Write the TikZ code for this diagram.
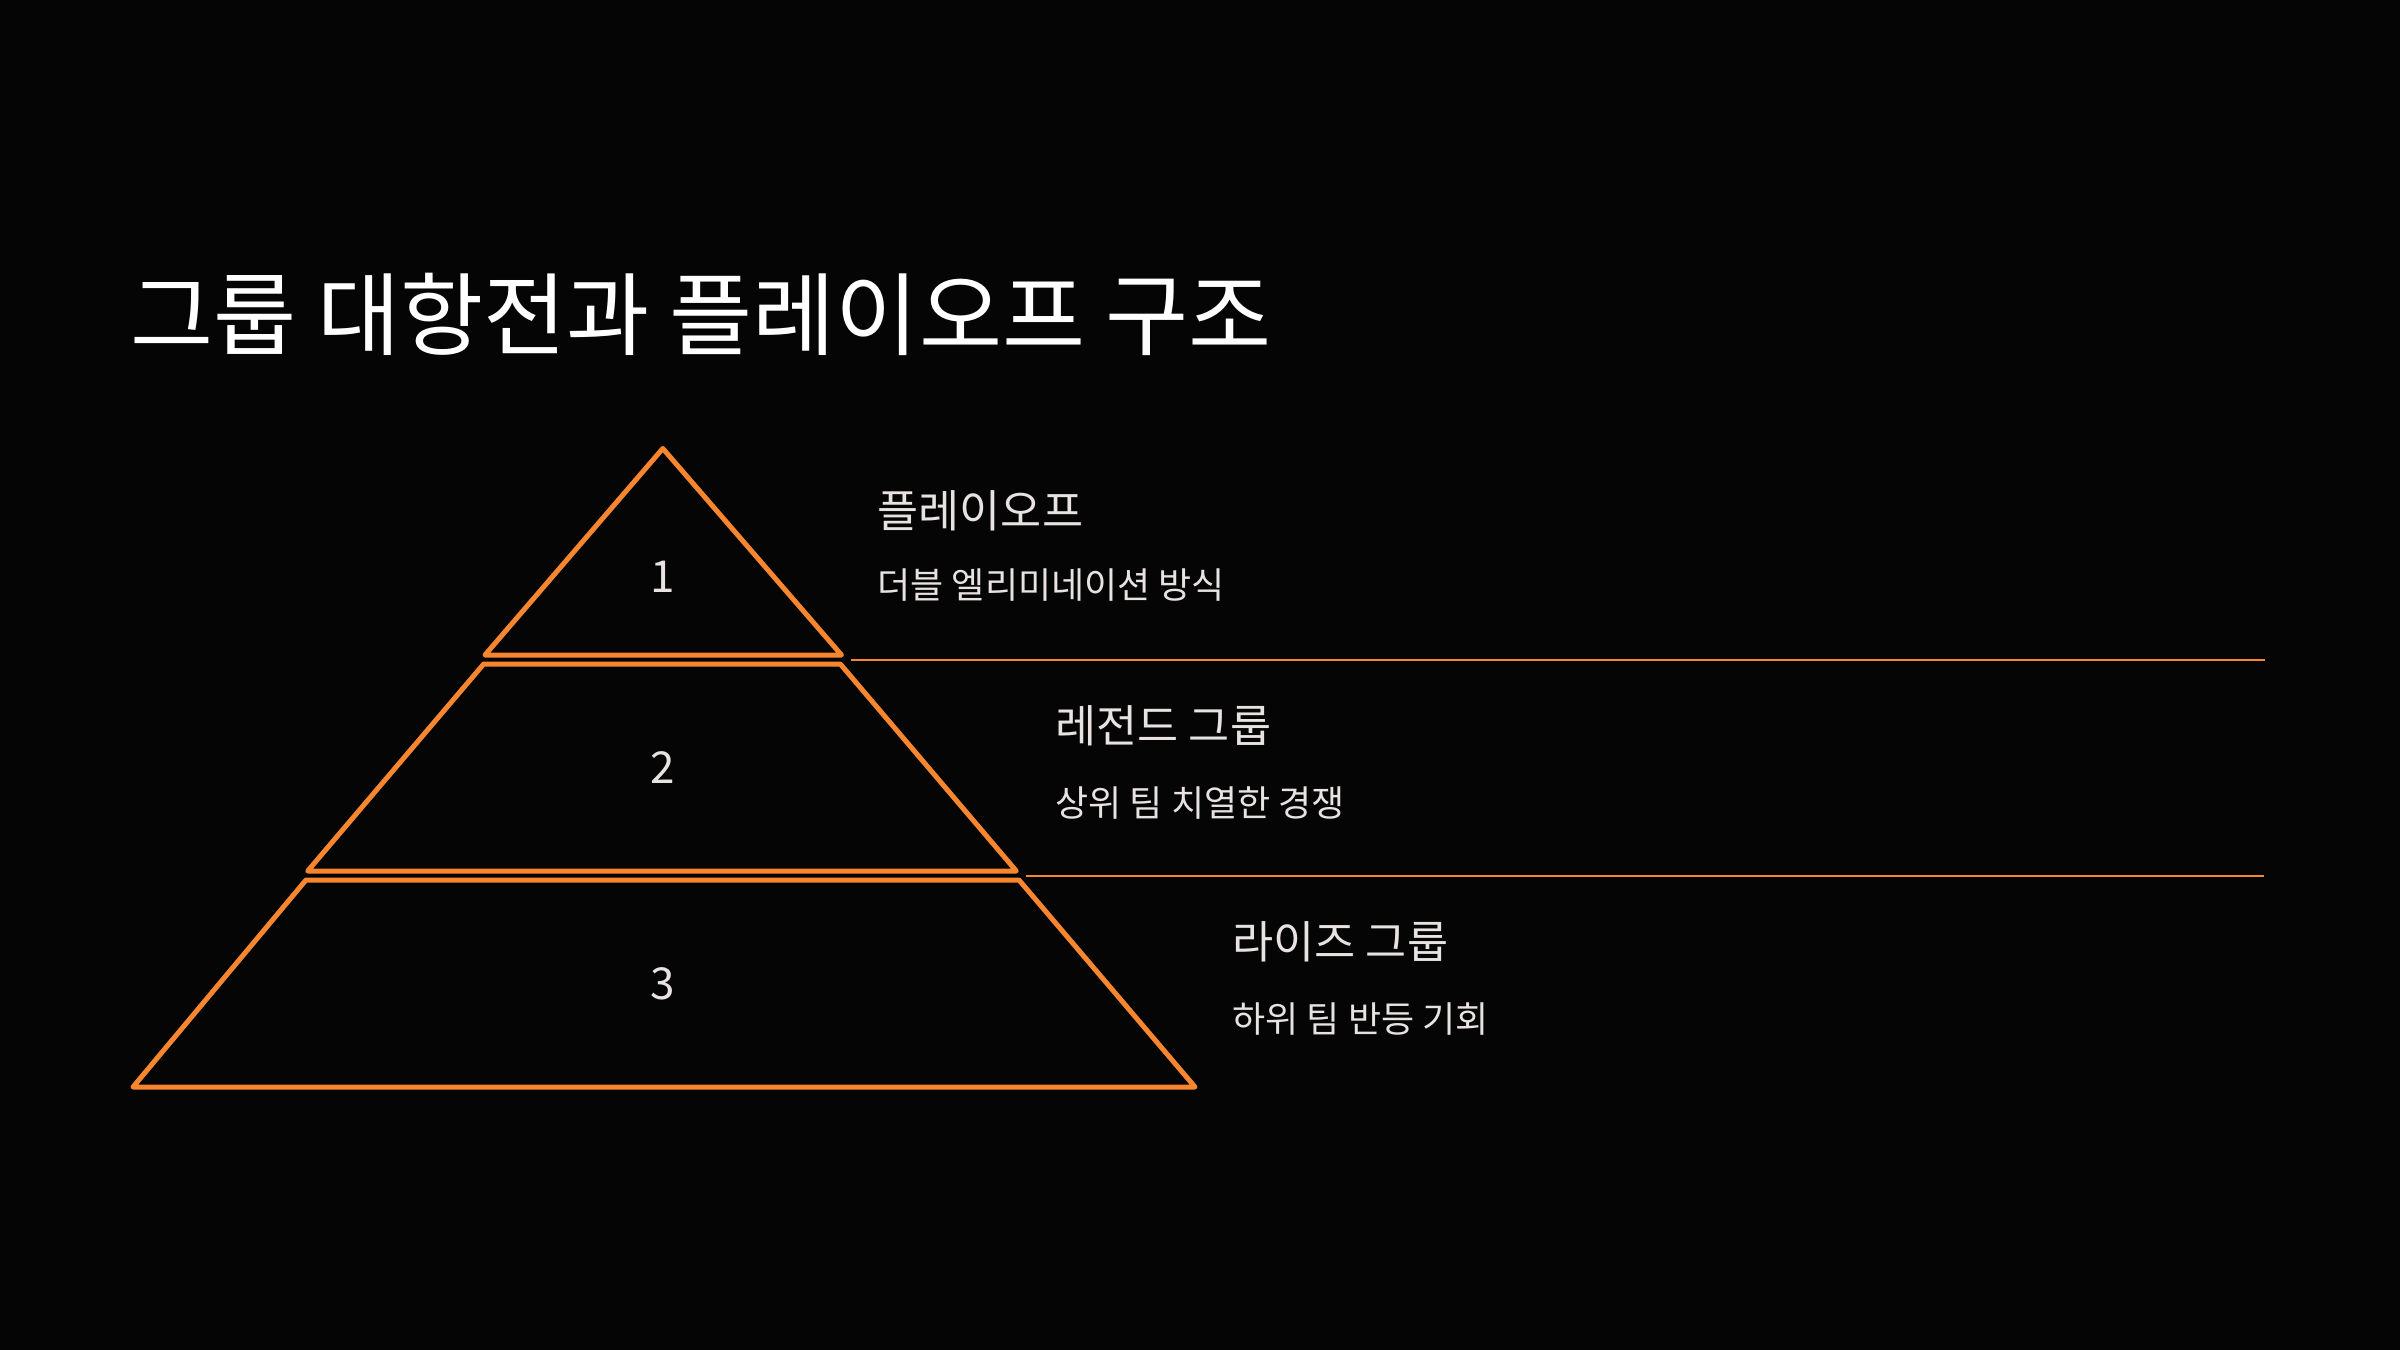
\documentclass[tikz,border=0pt]{standalone}
\usepackage{fontspec}
\setmainfont{Noto Sans CJK KR}
\begin{document}
\begin{tikzpicture}[x=0.3pt,y=-0.3pt,
  tier/.style={draw=org, line width=1.5pt, line join=round},
  sepline/.style={draw=org, line width=0.6pt},
  titletext/.style={anchor=west, inner sep=0pt, text=white, font=\fontsize{27.1}{32}\selectfont},
  headtext/.style={anchor=west, inner sep=0pt, text=txt, font=\fontsize{13.4}{16}\selectfont},
  bodytext/.style={anchor=west, inner sep=0pt, text=txt, font=\fontsize{10.8}{13}\selectfont},
  numtext/.style={inner sep=0pt, text=txt, font=\fontsize{13.2}{15}\selectfont}]
\definecolor{bg}{HTML}{050505}
\definecolor{org}{HTML}{F7862F}
\definecolor{txt}{HTML}{E8E2E2}
\fill[bg] (0,0) rectangle (2400,1350);
\useasboundingbox (0,0) rectangle (2400,1350);

% title
\node[titletext] (title) at (130,314) {그룹 대항전과 플레이오프 구조};

% pyramid tiers
\draw[tier] (662.8,448.5) -- (841.5,655) -- (485,655) -- cycle;
\draw[tier] (483.7,664) -- (840.3,664) -- (1016.3,871) -- (307.7,871) -- cycle;
\draw[tier] (306,880) -- (1019,880) -- (1195,1087) -- (133,1087) -- cycle;

\node[numtext] (n1) at (662.8,577) {1};
\node[numtext] (n2) at (662.8,768) {2};
\node[numtext] (n3) at (662.8,984) {3};

% separators
\coordinate (s1a) at (851,659.7);
\coordinate (s1b) at (2265,659.7);
\coordinate (s2a) at (1025.5,875.5);
\coordinate (s2b) at (2264,875.5);
\draw[sepline] (s1a) -- (s1b);
\draw[sepline] (s2a) -- (s2b);

% labels
\node[headtext] (h1) at (877,511) {플레이오프};
\node[bodytext] (b1) at (877,585) {더블 엘리미네이션 방식};
\node[headtext] (h2) at (1055,726) {레전드 그룹};
\node[bodytext] (b2) at (1055,803) {상위 팀 치열한 경쟁};
\node[headtext] (h3) at (1232,942) {라이즈 그룹};
\node[bodytext] (b3) at (1232,1019) {하위 팀 반등 기회};
\end{tikzpicture}
\end{document}
